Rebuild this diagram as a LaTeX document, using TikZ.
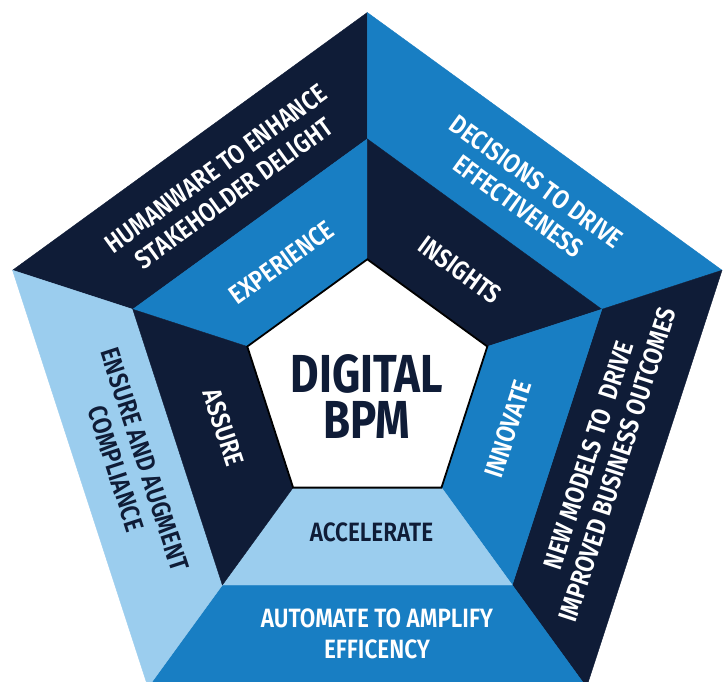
\documentclass[tikz,border=0pt]{standalone}
\usepackage{fontspec}
\newfontfamily\condfont{Fira Sans}[FakeStretch=0.82]
\newfontfamily\semifont{Fira Sans SemiBold}[FakeStretch=0.85]
\definecolor{navy}{HTML}{0F1C37}
\definecolor{bpblue}{HTML}{187EC3}
\definecolor{light}{HTML}{9BCDEE}
\tikzset{
  seglabel/.style={font={\semifont\fontsize{26.5}{30.5}\selectfont}, align=center, inner sep=0pt},
  onwhite/.style={seglabel, text=white},
  onlight/.style={seglabel, text=navy},
  centrelabel/.style={font={\condfont\bfseries\fontsize{53.5}{46}\selectfont}, align=center, inner sep=0pt, text=navy}
}
\begin{document}
\begin{tikzpicture}[x=1pt,y=1pt]
\useasboundingbox (0,0) rectangle (725,-681);
\clip (0,0) rectangle (725,-681);
\fill[white] (0,0) rectangle (725,-681);
\begin{scope}[shift={(367.3,-385.5)}]
  % outer ring
  \foreach \a/\c in {90/navy,18/bpblue,-54/navy,234/bpblue,162/light} {
    \filldraw[fill=\c, draw=\c, line width=0.4pt, line join=round]
      (\a:373) -- (\a+72:373) -- (\a+72:246.6) -- (\a:246.6) -- cycle;
  }
  % middle ring
  \foreach \a/\c in {90/bpblue,18/navy,-54/bpblue,234/light,162/navy} {
    \filldraw[fill=\c, draw=\c, line width=0.4pt, line join=round]
      (\a:246.6) -- (\a+72:246.6) -- (\a+72:126.2) -- (\a:126.2) -- cycle;
  }
  % centre
  \filldraw[fill=white, draw=black, line width=1.8pt, line join=miter]
    (90:126.2) -- (162:126.2) -- (234:126.2) -- (306:126.2) -- (18:126.2) -- cycle;
\end{scope}
% outer labels
\node[onwhite, rotate=36] (human) at (225,-181) {HUMANWARE TO ENHANCE\\STAKEHOLDER DELIGHT};
\node[onwhite, rotate=-36] (decis) at (527.5,-194) {DECISIONS TO DRIVE\\EFFECTIVENESS};
\node[onwhite, rotate=72] (newmod) at (603,-460) {NEW MODELS TO\ \ DRIVE\\IMPROVED BUSINESS OUTCOMES};
\node[onwhite] (autom) at (377,-634) {AUTOMATE TO AMPLIFY\\EFFICENCY};
\node[onlight, rotate=-72] (ensure) at (130.5,-464) {ENSURE AND AUGMENT\\COMPLIANCE};
% middle labels
\node[onwhite, rotate=36] (exper) at (281.7,-262.5) {EXPERIENCE};
\node[onwhite, rotate=-36] (insig) at (460,-270) {INSIGHTS};
\node[onwhite, rotate=72] (innov) at (508.3,-429.2) {INNOVATE};
\node[onlight] (accel) at (371.5,-532.5) {ACCELERATE};
\node[onwhite, rotate=-72] (assure) at (223.7,-427.3) {ASSURE};
% centre label
\node[centrelabel] (digital) at (367,-396.5) {DIGITAL\\BPM};
\end{tikzpicture}
\end{document}
